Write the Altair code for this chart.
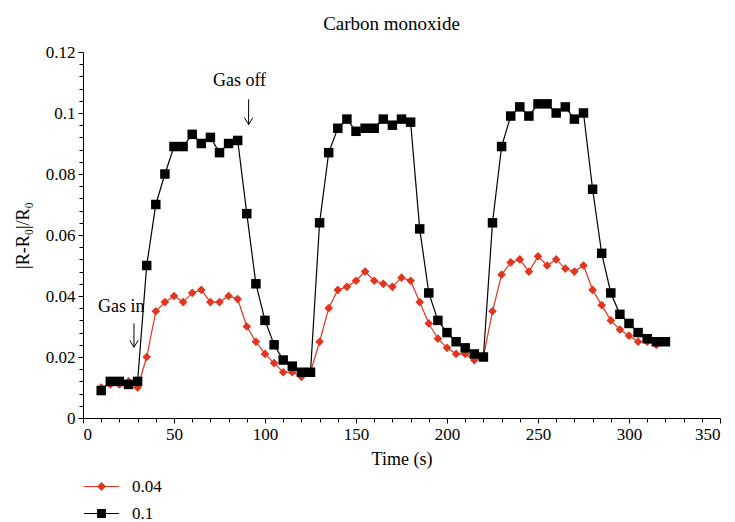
import altair as alt
import pandas as pd

# ---------------- data ----------------
time_s = [10, 15, 20, 25, 30, 35, 40, 45, 50, 55, 60, 65, 70, 75, 80, 85,
          90, 95, 100, 105, 110, 115, 120, 125, 130, 135, 140, 145, 150, 155,
          160, 165, 170, 175, 180, 185, 190, 195, 200, 205, 210, 215, 220,
          225, 230, 235, 240, 245, 250, 255, 260, 265, 270, 275, 280, 285,
          290, 295, 300, 305, 310, 315, 320]

resp_004 = [0.010, 0.011, 0.011, 0.012, 0.010,
            0.020, 0.035, 0.038, 0.040, 0.038, 0.041, 0.042, 0.038, 0.038, 0.040, 0.039,
            0.030, 0.025, 0.021, 0.018, 0.015, 0.015, 0.0135, 0.015,
            0.025, 0.036, 0.042, 0.043, 0.045, 0.048, 0.045, 0.044, 0.043, 0.046, 0.045,
            0.038, 0.031, 0.026, 0.023, 0.021, 0.021, 0.019, 0.020,
            0.035, 0.047, 0.051, 0.052, 0.048, 0.053, 0.050, 0.052, 0.049, 0.048, 0.050,
            0.042, 0.037, 0.032, 0.029, 0.027, 0.025, 0.025, 0.024, 0.025]

resp_01 = [0.009, 0.012, 0.012, 0.011, 0.012,
           0.050, 0.070, 0.080, 0.089, 0.089, 0.093, 0.090, 0.092, 0.087, 0.090, 0.091,
           0.067, 0.044, 0.032, 0.024, 0.019, 0.017, 0.015, 0.015,
           0.064, 0.087, 0.095, 0.098, 0.094, 0.095, 0.095, 0.098, 0.096, 0.098, 0.097,
           0.062, 0.041, 0.032, 0.028, 0.025, 0.023, 0.021, 0.020,
           0.064, 0.089, 0.099, 0.102, 0.099, 0.103, 0.103, 0.100, 0.102, 0.098, 0.100,
           0.075, 0.054, 0.041, 0.034, 0.031, 0.028, 0.026, 0.025, 0.025]

series_names = ["0.04", "0.1"]
series_colors = ["#e2341e", "#000000"]
series_shapes = ["diamond", "square"]
series_sizes = [75, 90]

x_major = [0, 50, 100, 150, 200, 250, 300, 350]
x_minor = [v for v in range(10, 350, 10) if v % 50 != 0]
y_major = [0, 0.02, 0.04, 0.06, 0.08, 0.1, 0.12]
y_labels = ["0", "0.02", "0.04", "0.06", "0.08", "0.1", "0.12"]
y_minor = [round(0.004 * k, 3) for k in range(1, 30) if k % 5 != 0]

ann_text = ["Gas in", "Gas off"]
ann_t = [21, 86]
ann_v = [0.0365, 0.1105]
arrow_t = [28, 91]
arrow_top = [0.031, 0.1045]
arrow_tip = [0.0232, 0.0962]

FONT = "Liberation Serif"

# ---------------- tables ----------------
df = pd.DataFrame({
    "t": time_s * 2,
    "v": resp_004 + resp_01,
    "series": [series_names[0]] * len(time_s) + [series_names[1]] * len(time_s),
})
ann_df = pd.DataFrame({"label": ann_text, "t": ann_t, "v": ann_v})
arr_df = pd.DataFrame({"t": arrow_t, "top": arrow_top, "tip": arrow_tip})

xs = alt.Scale(domain=[0, 350], nice=False, zero=False)
ys = alt.Scale(domain=[0, 0.12], nice=False)
cs = alt.Scale(domain=series_names, range=series_colors)

ylab_expr = " : ".join(
    f"abs(datum.value - {v}) < 1e-6 ? '{l}'" for v, l in zip(y_major, y_labels)
) + " : ''"

x_axis = alt.Axis(values=x_major, title="Time (s)", tickSize=5, labelPadding=3,
                  titlePadding=8, grid=False, format="d")
y_axis = alt.Axis(values=y_major, title="|R-R₀|/R₀", tickSize=5, labelPadding=3,
                  titlePadding=13, grid=False, labelExpr=ylab_expr)

layers = []
for i, s in enumerate(series_names):
    base = alt.Chart(df).transform_filter(alt.datum.series == s)
    xa = x_axis if i == 0 else None
    ya = y_axis if i == 0 else None
    line = base.mark_line(strokeWidth=1.2, color=series_colors[i]).encode(
        x=alt.X("t:Q", scale=xs, axis=xa),
        y=alt.Y("v:Q", scale=ys, axis=ya),
        order="t:Q",
    )
    pts = base.mark_point(filled=True, opacity=1, shape=series_shapes[i],
                          size=series_sizes[i], color=series_colors[i]).encode(
        x=alt.X("t:Q", scale=xs, axis=None),
        y=alt.Y("v:Q", scale=ys, axis=None),
    )
    layers += [line, pts]

# legend-only layer: symbols are a thin bar (the line) plus the marker, all filled
legend_paths = ["M-2.2,-0.075H2.2V0.075H-2.2Z M0,-0.56L0.56,0L0,0.56L-0.56,0Z",
                "M-2.2,-0.075H2.2V0.075H-2.2Z M-0.55,-0.55H0.55V0.55H-0.55Z"]
leg = alt.Legend(title=None, orient="none", legendX=10, legendY=426,
                 symbolSize=256, symbolStrokeWidth=0, symbolOpacity=1,
                 labelFont=FONT, labelFontSize=17, labelColor="black",
                 labelOffset=22, rowPadding=9, padding=0, direction="vertical")
legend_layer = alt.Chart(df).mark_point(filled=True, opacity=0).encode(
    x=alt.X("t:Q", scale=xs, axis=None),
    y=alt.Y("v:Q", scale=ys, axis=None),
    color=alt.Color("series:N", scale=cs, legend=leg),
    shape=alt.Shape("series:N", scale=alt.Scale(domain=series_names, range=legend_paths), legend=leg),
)

# minor ticks
minor_x = alt.Chart(pd.DataFrame({"t": x_minor})).mark_point(opacity=0).encode(
    x=alt.X("t:Q", scale=xs, axis=alt.Axis(values=x_minor, labels=False, domain=False,
                                             tickSize=4, grid=False, title=None, orient="bottom")),
)
minor_y = alt.Chart(pd.DataFrame({"v": y_minor})).mark_point(opacity=0).encode(
    y=alt.Y("v:Q", scale=ys, axis=alt.Axis(values=y_minor, labels=False, domain=False,
                                             tickSize=4, grid=False, title=None, orient="left")),
)

texts = alt.Chart(ann_df).mark_text(font=FONT, fontSize=18, color="black",
                                    align="center", baseline="middle").encode(
    x=alt.X("t:Q", scale=xs, axis=None),
    y=alt.Y("v:Q", scale=ys, axis=None),
    text="label:N",
)
shafts = alt.Chart(arr_df).mark_rule(strokeWidth=1, color="black").encode(
    x=alt.X("t:Q", scale=xs, axis=None),
    y=alt.Y("top:Q", scale=ys, axis=None),
    y2="tip:Q",
)
heads = alt.Chart(arr_df).mark_point(filled=False, shape="M-0.6,-1L0,0L0.6,-1",
                                     size=196, strokeWidth=1, color="black", opacity=1).encode(
    x=alt.X("t:Q", scale=xs, axis=None),
    y=alt.Y("tip:Q", scale=ys, axis=None),
)

chart = alt.layer(*layers, legend_layer, minor_x, minor_y, texts, shafts, heads).resolve_axis(
    x="independent", y="independent"
).properties(
    width=637, height=366,
    title=alt.TitleParams("Carbon monoxide", font=FONT, fontSize=19, fontWeight="normal",
                          color="black", offset=9, dx=-10),
    autosize=alt.AutoSizeParams(type="none"),
    padding={"left": 83, "top": 52, "right": 15, "bottom": 104},
).configure_view(stroke=None).configure_axis(
    labelFont=FONT, titleFont=FONT, labelFontSize=17, titleFontSize=18,
    labelColor="black", titleColor="black", domainColor="black", tickColor="black",
    titleFontWeight="normal", domainWidth=1, tickWidth=1,
)

chart.save("out.html", embed_options={"renderer": "svg", "actions": False})
